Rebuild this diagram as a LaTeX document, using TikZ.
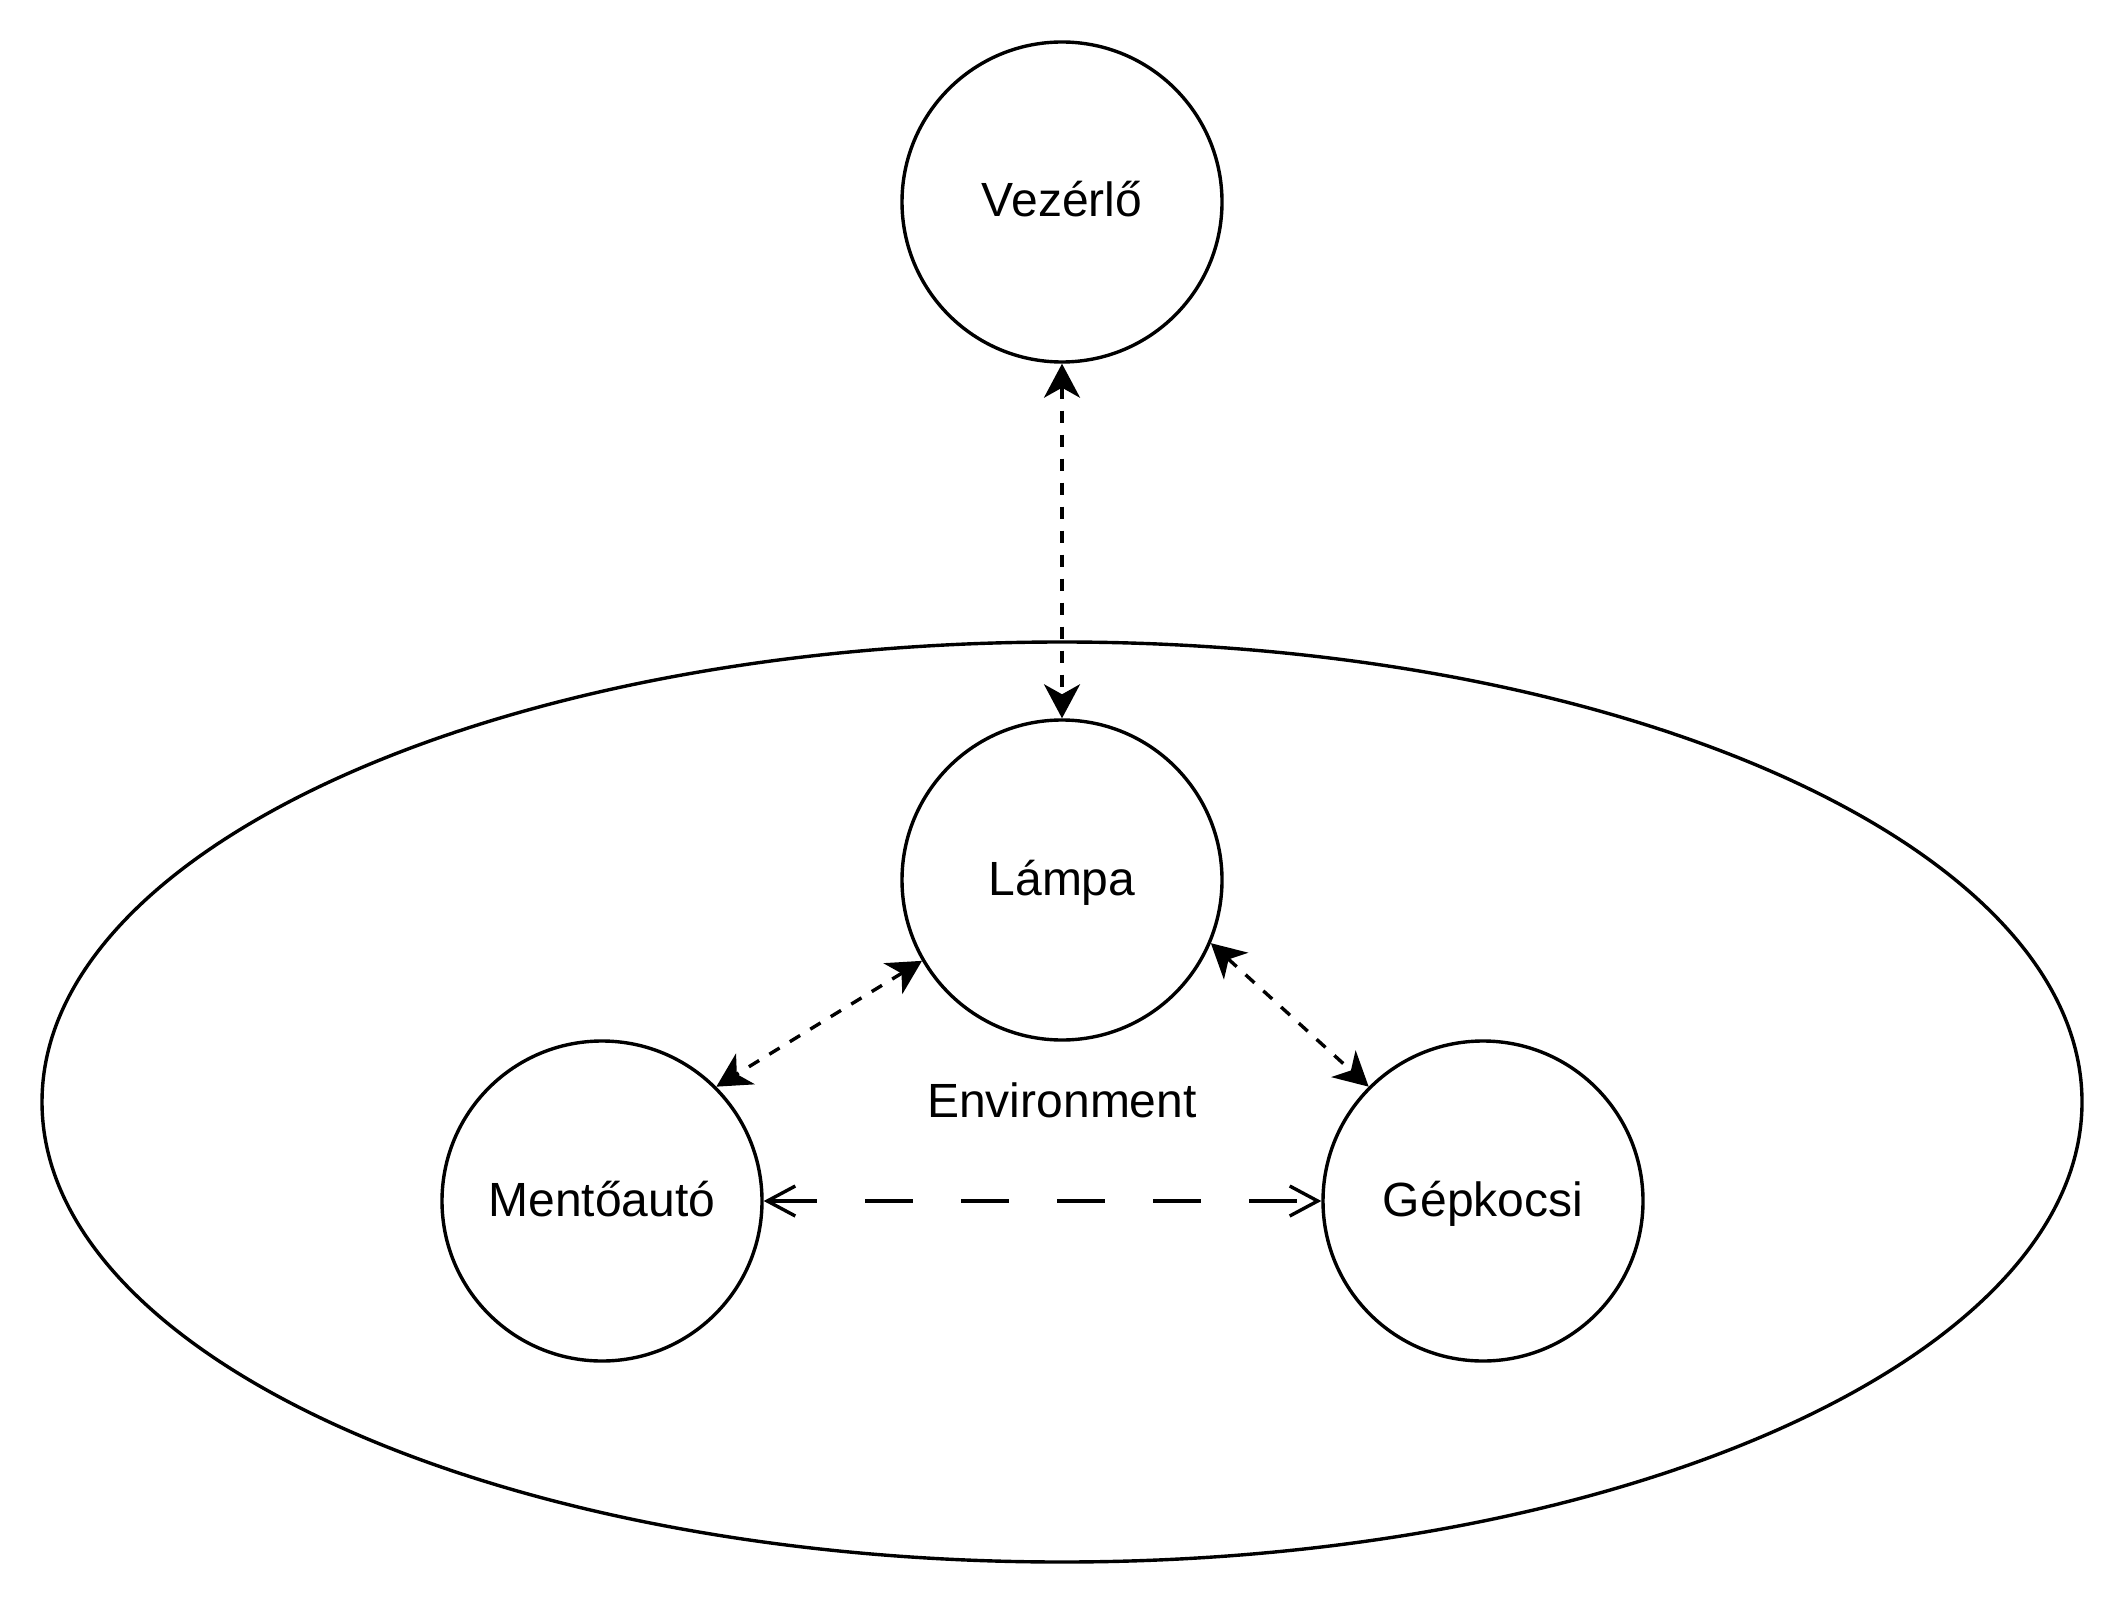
\documentclass[tikz,border=0pt]{standalone}
\usepackage{fontspec}
\setmainfont{Liberation Sans}
\usetikzlibrary{arrows.meta,shapes.geometric}
\begin{document}
\begin{tikzpicture}[x=0.5pt,y=-0.5pt,
  every node/.style={font=\fontsize{24pt}{28pt}\selectfont,text height=21.5pt,text depth=6.5pt},
  agent/.style={circle,draw,line width=1.7pt,minimum size=160pt,inner sep=0pt,fill=white},
  envshape/.style={ellipse,draw,line width=1.7pt,minimum width=1020pt,minimum height=460pt,inner sep=0pt},
  dotlink/.style={line width=1.7pt,dash pattern=on 6pt off 6pt,
    {Stealth[length=17pt,width=18pt,inset=5pt]}-{Stealth[length=17pt,width=18pt,inset=5pt]}},
  dashlink/.style={line width=1.7pt,dash pattern=on 24pt off 24pt,
    {Straight Barb[length=14pt,width=15pt]}-{Straight Barb[length=14pt,width=15pt]}}]
\useasboundingbox (0,0) rectangle (2124,1604);
\node[envshape] (env) at (1062,1102) {Environment};
\node[agent] (vez) at (1062,202) {Vezérlő};
\node[agent] (lamp) at (1062,880) {Lámpa};
\node[agent] (ment) at (602,1201) {Mentőautó};
\node[agent] (gep) at (1483,1201) {Gépkocsi};
\draw[dotlink] (vez.south) -- (lamp.north);
\draw[dotlink] (lamp.210) -- (ment.45);
\draw[dotlink] (lamp.337) -- (gep.135);
\draw[dashlink] (ment.east) -- (gep.west);
\end{tikzpicture}
\end{document}
